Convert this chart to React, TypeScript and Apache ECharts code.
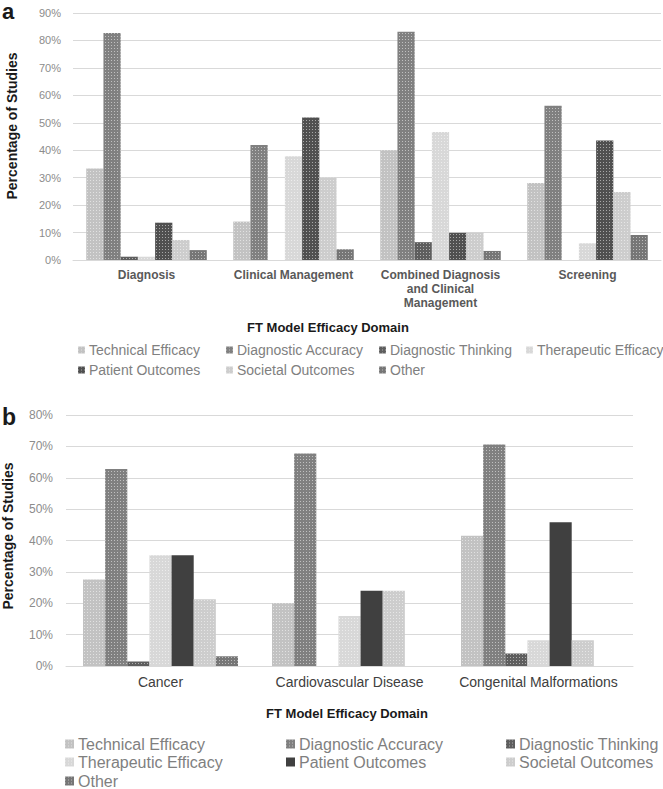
import React, { useEffect, useRef } from "react";
import * as echarts from "echarts";

const seriesNames = [
  "Technical Efficacy",
  "Diagnostic Accuracy",
  "Diagnostic Thinking",
  "Therapeutic Efficacy",
  "Patient Outcomes",
  "Societal Outcomes",
  "Other",
];

// Chart a
const categoriesA = [
  "Diagnosis",
  "Clinical Management",
  "Combined Diagnosis\nand Clinical\nManagement",
  "Screening",
];
const technicalA = [33.3, 14.0, 40.0, 28.1];
const accuracyA = [82.7, 41.9, 83.2, 56.2];
const thinkingA = [1.2, 0, 6.5, 0];
const therapeuticA = [1.2, 37.8, 46.6, 6.1];
const patientA = [13.6, 51.9, 9.9, 43.5];
const societalA = [7.3, 30.0, 10.0, 24.8];
const otherA = [3.6, 3.9, 3.3, 9.1];

// Chart b
const categoriesB = ["Cancer", "Cardiovascular Disease", "Congenital Malformations"];
const technicalB = [27.6, 20.0, 41.5];
const accuracyB = [62.8, 67.7, 70.6];
const thinkingB = [1.4, 0, 4.0];
const therapeuticB = [35.3, 15.9, 8.2];
const patientB = [35.3, 24.0, 45.8];
const societalB = [21.3, 24.0, 8.2];
const otherB = [3.1, 0, 0];

const yTicksA = { min: 0, max: 90, interval: 10 };
const yTicksB = { min: 0, max: 80, interval: 10 };

const FONT = "'Liberation Sans', Arial, sans-serif";

const baseColors = ["#c2c2c2", "#808080", "#5e5e5e", "#d8d8d8", "#505050", "#cdcdcd", "#767676"];

const dots = () => ({
  symbol: "rect",
  symbolSize: 1,
  dashArrayX: [1, 2],
  dashArrayY: [1, 2],
  color: "rgba(255,255,255,0.5)",
});

function makeSeries(data: number[][], solidPatient: boolean) {
  return data.map((d, i) => {
    const solid = solidPatient && i === 4;
    return {
      type: "bar",
      name: seriesNames[i],
      data: d,
      barGap: "0%",
      barCategoryGap: "18%",
      itemStyle: solid
        ? { color: "#404040" }
        : { color: baseColors[i], decal: dots() },
      emphasis: { disabled: true },
    };
  });
}

function makeLegends(
  positions: number[][],
  fontSize: number,
  icon: number,
  color: string
) {
  return seriesNames.map((name, i) => ({
    data: [name],
    left: positions[i][0],
    top: positions[i][1] - Math.round(fontSize / 2) - 1,
    padding: 0,
    itemGap: 0,
    itemWidth: icon,
    itemHeight: icon,
    icon: "rect",
    selectedMode: false,
    textStyle: { fontSize, color, fontFamily: FONT, padding: [0, 0, 0, -1] },
  }));
}

export default function App() {
  const refA = useRef<HTMLDivElement>(null);
  const refB = useRef<HTMLDivElement>(null);

  useEffect(() => {
    const chartA = echarts.init(refA.current!, null, { renderer: "svg" });
    const chartB = echarts.init(refB.current!, null, { renderer: "svg" });

    chartA.setOption({
      animation: false,
      backgroundColor: "#ffffff",
      grid: { left: 73, top: 13, width: 588, height: 247 },
      xAxis: {
        type: "category",
        data: categoriesA,
        axisLine: { show: true, lineStyle: { color: "#d9d9d9", width: 1 } },
        axisTick: { show: false },
        axisLabel: {
          interval: 0,
          margin: 8,
          fontSize: 12,
          fontWeight: "bold",
          lineHeight: 14,
          color: "#595959",
          fontFamily: FONT,
        },
      },
      yAxis: {
        type: "value",
        ...yTicksA,
        axisLine: { show: false },
        axisTick: { show: false },
        splitLine: { lineStyle: { color: "#d9d9d9", width: 1 } },
        axisLabel: {
          formatter: "{value}%",
          margin: 12,
          fontSize: 11,
          color: "#8c8c8c",
          fontFamily: FONT,
        },
      },
      legend: makeLegends(
        [
          [78, 351],
          [226, 351],
          [379, 351],
          [526, 351],
          [78, 371],
          [226, 371],
          [379, 371],
        ],
        14,
        7,
        "#808080"
      ),
      graphic: [
        {
          type: "text",
          x: 2,
          y: 11,
          style: {
            text: "a",
            font: "bold 22px " + FONT,
            fill: "#1a1a1a",
            textVerticalAlign: "middle",
          },
        },
        {
          type: "text",
          x: 12,
          y: 126,
          rotation: Math.PI / 2,
          style: {
            text: "Percentage of Studies",
            font: "bold 14px " + FONT,
            fill: "#1a1a1a",
            textAlign: "center",
            textVerticalAlign: "middle",
          },
        },
        {
          type: "text",
          x: 328,
          y: 327,
          style: {
            text: "FT Model Efficacy Domain",
            font: "bold 13px " + FONT,
            fill: "#1a1a1a",
            textAlign: "center",
            textVerticalAlign: "middle",
          },
        },
      ],
      series: makeSeries(
        [technicalA, accuracyA, thinkingA, therapeuticA, patientA, societalA, otherA],
        false
      ),
    });

    chartB.setOption({
      animation: false,
      backgroundColor: "#ffffff",
      grid: { left: 66, top: 25, width: 567, height: 251 },
      xAxis: {
        type: "category",
        data: categoriesB,
        axisLine: { show: true, lineStyle: { color: "#d9d9d9", width: 1 } },
        axisTick: { show: false },
        axisLabel: {
          interval: 0,
          margin: 9,
          fontSize: 14,
          color: "#404040",
          fontFamily: FONT,
        },
      },
      yAxis: {
        type: "value",
        ...yTicksB,
        axisLine: { show: false },
        axisTick: { show: false },
        splitLine: { lineStyle: { color: "#d9d9d9", width: 1 } },
        axisLabel: {
          formatter: "{value}%",
          margin: 13,
          fontSize: 12,
          color: "#8c8c8c",
          fontFamily: FONT,
        },
      },
      legend: makeLegends(
        [
          [65, 355],
          [286, 355],
          [506, 355],
          [65, 373],
          [286, 373],
          [506, 373],
          [65, 392],
        ],
        16,
        9,
        "#7f7f7f"
      ),
      graphic: [
        {
          type: "text",
          x: 2,
          y: 27,
          style: {
            text: "b",
            font: "bold 23px " + FONT,
            fill: "#1a1a1a",
            textVerticalAlign: "middle",
          },
        },
        {
          type: "text",
          x: 8,
          y: 146,
          rotation: Math.PI / 2,
          style: {
            text: "Percentage of Studies",
            font: "bold 14px " + FONT,
            fill: "#1a1a1a",
            textAlign: "center",
            textVerticalAlign: "middle",
          },
        },
        {
          type: "text",
          x: 347,
          y: 323,
          style: {
            text: "FT Model Efficacy Domain",
            font: "bold 13px " + FONT,
            fill: "#1a1a1a",
            textAlign: "center",
            textVerticalAlign: "middle",
          },
        },
      ],
      series: makeSeries(
        [technicalB, accuracyB, thinkingB, therapeuticB, patientB, societalB, otherB],
        true
      ),
    });

    return () => {
      chartA.dispose();
      chartB.dispose();
    };
  }, []);

  return (
    <div style={{ position: "absolute", left: 0, top: 0, width: 663, height: 789, background: "#fff" }}>
      <div ref={refA} style={{ position: "absolute", left: 0, top: 0, width: 663, height: 390 }} />
      <div ref={refB} style={{ position: "absolute", left: 0, top: 390, width: 663, height: 399 }} />
    </div>
  );
}
